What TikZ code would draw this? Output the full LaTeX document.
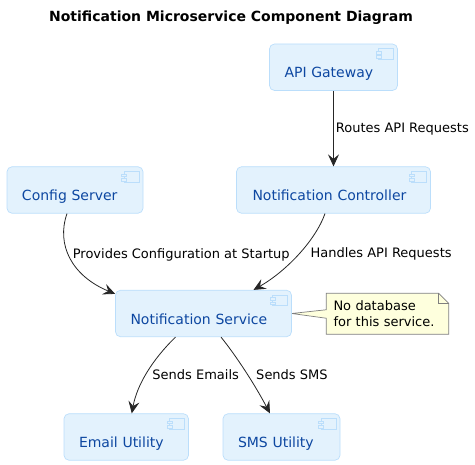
\documentclass[tikz,border=0pt]{standalone}
\usepackage{fontspec}
\setmainfont{DejaVu Sans}
\usetikzlibrary{arrows.meta,calc,backgrounds}
\definecolor{compfill}{HTML}{E3F2FD}
\definecolor{compline}{HTML}{BBDEFB}
\definecolor{comptext}{HTML}{0D47A1}
\definecolor{notefill}{HTML}{FEFFDD}
\definecolor{noteline}{HTML}{7F7F7F}
\newcommand{\compicon}[1]{
  \draw[icon] ([shift={(-19.5,5)}]#1.north east) rectangle ([shift={(-4.5,15.5)}]#1.north east);
  \draw[icon] ([shift={(-22,7.5)}]#1.north east) rectangle ([shift={(-17,10.3)}]#1.north east);
  \draw[icon] ([shift={(-22,12)}]#1.north east) rectangle ([shift={(-17,14.8)}]#1.north east);
}

\begin{document}
\begin{tikzpicture}[x=1pt,y=-1pt]
\tikzstyle{comp}=[rectangle, rounded corners=5pt, draw=compline, fill=compfill, text=comptext, line width=0.7pt, font=\fontsize{14}{16}\selectfont, inner xsep=15pt, inner ysep=0pt, text height=34pt, text depth=12.5pt, align=left]
\tikzstyle{icon}=[draw=compline, fill=compfill, line width=0.5pt]
\tikzstyle{connect}=[-{Stealth[length=12pt,width=11pt,inset=4.5pt]}, line width=0.8pt, draw=black!85]
\tikzstyle{elabel}=[font=\fontsize{13}{15}\selectfont, inner sep=0pt, text=black]
\tikzstyle{notetext}=[font=\fontsize{13}{15.5}\selectfont, align=left, inner sep=0pt, minimum width=122pt, minimum height=40.5pt, text width=108pt]

  \useasboundingbox (0,0) rectangle (475,465);

  \node[font=\fontsize{14}{16}\selectfont\bfseries, inner sep=0pt] (title) at (231,18) {Notification Microservice Component Diagram};

  \node[comp, text width=98pt]  (gateway) at (333.5,67.25)  {API Gateway};
  \node[comp, text width=162pt, inner xsep=16pt] (control) at (333.5,190) {Notification Controller};
  \node[comp, text width=106pt] (config)  at (75,190)       {Config Server};
  \node[comp, text width=146pt] (service) at (203.5,313.5)  {Notification Service};
  \node[comp, text width=94.5pt] (email)  at (126.25,437)   {Email Utility};
  \node[comp, text width=87pt]  (sms)     at (281.5,437)    {SMS Utility};

  \foreach \n in {gateway,control,config,service,email,sms} {
    \compicon{\n}
  }

  \node[notetext] (note) at (387.5,313.75) {No database\\for this service.};
  \begin{scope}[on background layer]
  \draw[fill=notefill, draw=noteline, line width=0.7pt]
    (note.north west) -- ([xshift=-10pt]note.north east) -- ([yshift=-10pt]note.north east)
    -- (note.south east) -- (note.south west) -- ([yshift=-4.5pt]note.west) -- (service.east)
    -- ([yshift=4pt]note.west) -- cycle;
  \draw[draw=noteline, line width=0.7pt]
    ([xshift=-10pt]note.north east) -- ([shift={(-10pt,-10pt)}]note.north east) -- ([yshift=-10pt]note.north east);
  \end{scope}

  \path (gateway.south) edge [connect] node [elabel, pos=0.52, right, xshift=2pt, yshift=1pt] {Routes API Requests} (control.north);
  \draw[connect] ([xshift=-8.5pt]control.south) .. controls ++(-10,28) and (285,272) .. ([xshift=50pt]service.north)
    node [elabel, pos=0.42, right, xshift=7pt, yshift=-5pt] {Handles API Requests};
  \draw[connect] ([xshift=-8pt]config.south) .. controls (56,245) and (72,276) .. ([yshift=-4pt]service.north west)
    node [elabel, pos=0.42, right, xshift=5pt, yshift=-3pt] {Provides Configuration at Startup};
  \draw[connect] ([xshift=-28pt]service.south) .. controls (152,360) and (137,385) .. ([xshift=5.5pt]email.north)
    node [elabel, pos=0.45, right, xshift=3pt, yshift=-5pt] {Sends Emails};
  \draw[connect] ([xshift=17.5pt]service.south) .. controls (237,357) and (255,385) .. ([xshift=-11.5pt]sms.north)
    node [elabel, pos=0.42, right, xshift=14pt, yshift=-9pt] {Sends SMS};
\end{tikzpicture}
\end{document}
